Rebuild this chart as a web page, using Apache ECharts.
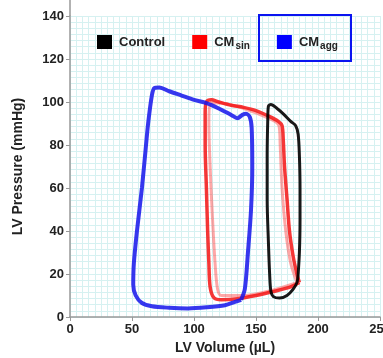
<!DOCTYPE html>
<html>
<head>
<meta charset="utf-8">
<script src="https://cdn.jsdelivr.net/npm/echarts@6/dist/echarts.min.js"></script>
<style>html,body{margin:0;padding:0;background:#fff}#c{width:383px;height:358px}</style>
</head>
<body>
<div id="c"></div>
<script>
// Tick labels
const xTicks = [0, 50, 100, 150, 200, 250];
const yTicks = [0, 20, 40, 60, 80, 100, 120, 140];

// Control loop [volume µL, pressure mmHg]
const controlVol = [184, 185, 185.5, 185.5, 185, 184, 182, 178, 172, 167, 162, 160, 159.5, 159, 159, 160, 161, 162, 164, 169, 175, 180, 183, 184];
const controlP   = [20, 30, 45, 60, 75, 85, 89, 91, 94.5, 97, 98.8, 98, 92, 75, 55, 35, 20, 12, 9.5, 8.8, 10, 13, 16, 20];

// CMsin loop (main strand)
const sinVol = [185, 183, 180, 177, 175, 173, 172, 171, 168, 160, 150, 140, 130, 120, 114, 110, 109, 109, 110, 111, 112, 113, 116, 122, 135, 150, 165, 178, 185];
const sinP   = [16, 20, 28, 40, 55, 70, 82, 89, 91, 93.5, 96, 97.5, 98.5, 100, 101, 100, 95, 80, 60, 40, 25, 14, 9, 8, 8.5, 10, 12, 14, 16];
// CMsin loop (fainter strand)
const sin2Vol = [183, 178, 174, 171, 169.5, 168.5, 160, 140, 120, 113, 112, 113, 115, 117, 119, 122, 140, 160, 183];
const sin2P   = [16, 25, 40, 60, 80, 89, 92.5, 97, 99.5, 99.5, 90, 70, 45, 25, 13, 10, 10, 12, 16];

// CMagg loop
const aggVol = [138, 141, 143.5, 146, 147, 146.5, 145, 142, 139, 135, 130, 120, 110, 100, 90, 80, 72, 68, 66, 63, 61, 58, 54, 51.5, 51, 53, 58, 66, 80, 95, 110, 125, 133, 138];
const aggP   = [8, 13, 30, 50, 70, 88, 93, 94.5, 94, 92.5, 94, 97, 99.5, 101, 103, 105, 106.8, 106.5, 103, 90, 78, 60, 40, 25, 15, 10, 6.5, 5, 4.3, 4, 4.5, 5.5, 7, 8];

const zip = (a, b) => a.map((v, i) => [v, b[i]]);
const FONT = 'Liberation Sans';
const gridColor = '#d6f1f1';

const chart = echarts.init(document.getElementById('c'), null, {renderer: 'canvas'});
chart.setOption({
  animation: false,
  grid: {left: 70, right: 3, top: 16, bottom: 41, show: false, containLabel: false, outerBoundsMode: 'none'},
  legend: {
    left: 92, top: 30,
    itemWidth: 15, itemHeight: 14, itemGap: 27,
    icon: 'rect',
    data: ['Control', 'CMsin', 'CMagg'],
    formatter: function (n) {
      if (n === 'CMsin') return 'CM{s|sin}';
      if (n === 'CMagg') return 'CM{s|agg}';
      return n;
    },
    textStyle: {
      fontFamily: FONT, fontWeight: 'bold', fontSize: 13, color: '#222', padding: [0, 0, 0, 2],
      rich: {s: {fontFamily: FONT, fontWeight: 'bold', fontSize: 10, color: '#222', verticalAlign: 'bottom', padding: [8, 0, 0, 1]}}
    }
  },
  xAxis: {
    type: 'value', min: xTicks[0], max: xTicks[xTicks.length - 1], interval: 50,
    name: 'LV Volume (µL)', nameLocation: 'middle', nameGap: 21,
    nameTextStyle: {fontFamily: FONT, fontWeight: 'bold', fontSize: 14, color: '#222'},
    axisLine: {show: true, lineStyle: {color: '#999', width: 1.5}},
    axisTick: {show: true, length: 4, lineStyle: {color: '#999'}},
    axisLabel: {fontFamily: FONT, fontWeight: 'bold', fontSize: 13, color: '#222', margin: 6, showMaxLabel: true},
    splitLine: {show: true, lineStyle: {color: gridColor, width: 1}},
    minorTick: {show: false, splitNumber: 10},
    minorSplitLine: {show: true, lineStyle: {color: gridColor, width: 1}}
  },
  yAxis: {
    type: 'value', min: yTicks[0], max: yTicks[yTicks.length - 1], interval: 20,
    name: 'LV Pressure (mmHg)', nameLocation: 'middle', nameGap: 45,
    nameTextStyle: {fontFamily: FONT, fontWeight: 'bold', fontSize: 14, color: '#222'},
    axisLine: {show: true, lineStyle: {color: '#999', width: 1.5}},
    axisTick: {show: true, length: 4, lineStyle: {color: '#999'}},
    axisLabel: {fontFamily: FONT, fontWeight: 'bold', fontSize: 13, color: '#222', margin: 6},
    splitLine: {show: true, lineStyle: {color: gridColor, width: 1}},
    minorTick: {show: false, splitNumber: 7},
    minorSplitLine: {show: true, lineStyle: {color: gridColor, width: 1}}
  },
  graphic: [
    {type: 'line', shape: {x1: 70, y1: 0, x2: 70, y2: 16}, style: {stroke: '#999', lineWidth: 1.5}, silent: true},
    {type: 'rect', shape: {x: 259, y: 15, width: 92, height: 46}, style: {fill: 'none', stroke: '#0a14f0', lineWidth: 2}, z: 100, silent: true}
  ],
  series: [
    {name: 'CMsin', type: 'line', data: zip(sin2Vol, sin2P), showSymbol: false, smooth: 0.3, color: '#ff0000',
     lineStyle: {width: 3, color: 'rgba(255,60,60,0.45)'}, z: 2},
    {name: 'CMsin', type: 'line', data: zip(sinVol, sinP), showSymbol: false, smooth: 0.3, color: '#ff0000',
     lineStyle: {width: 3.5, color: 'rgba(245,20,20,0.85)'}, z: 3},
    {name: 'Control', type: 'line', data: zip(controlVol, controlP), showSymbol: false, smooth: 0.3, color: '#000000',
     lineStyle: {width: 3, color: 'rgba(0,0,0,0.9)'}, z: 4},
    {name: 'CMagg', type: 'line', data: zip(aggVol, aggP), showSymbol: false, smooth: 0.3, color: '#0000ff',
     lineStyle: {width: 4, color: 'rgba(20,20,235,0.85)'}, z: 5}
  ]
});
</script>
</body>
</html>
